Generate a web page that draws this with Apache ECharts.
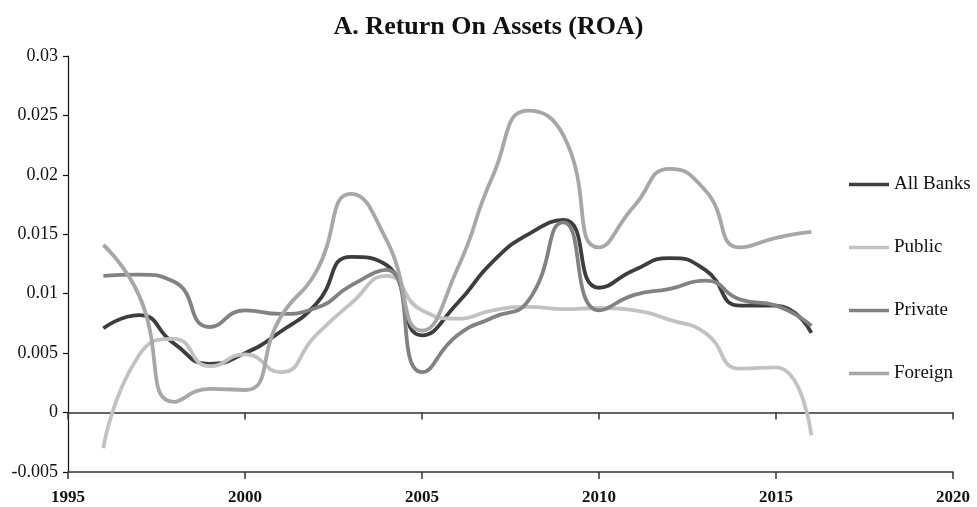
<!DOCTYPE html>
<html>
<head>
<meta charset="utf-8">
<script src="https://cdn.jsdelivr.net/npm/echarts@6/dist/echarts.min.js"></script>
<style>
html,body{margin:0;padding:0;background:#fff;}
#chart{width:977px;height:507px;}
</style>
</head>
<body>
<div id="chart"></div>
<script>
var years = [1996,1997,1998,1999,2000,2001,2002,2003,2004,2005,2006,2007,2008,2009,2010,2011,2012,2013,2014,2015,2016];
var allBanks = [0.0071,0.0082,0.0058,0.0041,0.0050,0.0068,0.0091,0.0131,0.0124,0.0065,0.0092,0.0127,0.0150,0.0162,0.0105,0.0120,0.0130,0.0120,0.0090,0.0090,0.0067];
var publicBanks = [-0.0030,0.0048,0.0062,0.0039,0.0049,0.0034,0.0065,0.0092,0.0115,0.0086,0.0079,0.0086,0.0089,0.0087,0.0088,0.0086,0.0078,0.0067,0.0037,0.0038,-0.0019];
var privateBanks = [0.0115,0.0116,0.0110,0.0072,0.0086,0.0083,0.0088,0.0107,0.0120,0.0034,0.0065,0.0080,0.0094,0.0160,0.0086,0.0099,0.0104,0.0111,0.0095,0.0090,0.0073];
var foreignBanks = [0.0141,0.0099,0.0009,0.0020,0.0019,0.0080,0.0118,0.0184,0.0145,0.0069,0.0121,0.0199,0.0254,0.0233,0.0139,0.0174,0.0205,0.0187,0.0139,0.0147,0.0152];
var seriesNames = ['All Banks','Public','Private','Foreign'];
var seriesColors = ['#3d3d3d','#c2c2c2','#828282','#a7a7a7'];
var titleText = 'A. Return On Assets (ROA)';

function pairs(vals){ return years.map(function(y,i){ return [y, vals[i]]; }); }
var allData = [allBanks, publicBanks, privateBanks, foreignBanks];

var FONT = '"Liberation Serif", "Times New Roman", serif';
var chart = echarts.init(document.getElementById('chart'));
chart.setOption({
  animation: false,
  backgroundColor: '#ffffff',
  title: {
    text: titleText, left: 'center', top: 9,
    textStyle: { fontFamily: FONT, fontSize: 26, fontWeight: 'bold', color: '#111' }
  },
  legend: {
    orient: 'vertical', left: 844, top: 170,
    icon: 'rect', itemWidth: 40, itemHeight: 3.5, itemGap: 44,
    data: seriesNames,
    textStyle: { fontFamily: FONT, fontSize: 19, color: '#111' }
  },
  grid: { left: 68, right: 24, top: 56, bottom: 35 },
  xAxis: [{
    type: 'value', position: 'bottom', min: 1995, max: 2020, interval: 5,
    axisLine: { onZero: false, lineStyle: { color: '#333', width: 1.5 } },
    axisTick: { show: true, length: 7, lineStyle: { color: '#333', width: 1.5 } },
    axisLabel: { margin: 17, fontFamily: FONT, fontSize: 17, fontWeight: 'bold', color: '#111',
      formatter: function(v){ return String(Math.round(v)); } },
    splitLine: { show: false }
  }, {
    type: 'value', position: 'top', min: 1995, max: 2020, interval: 5,
    axisLine: { onZero: true, lineStyle: { color: '#333', width: 1.5 } },
    axisTick: { show: true, inside: true, length: 7, lineStyle: { color: '#333', width: 1.5 } },
    axisLabel: { show: false },
    splitLine: { show: false }
  }],
  yAxis: {
    type: 'value', min: -0.005, max: 0.03, interval: 0.005,
    axisLine: { show: true, lineStyle: { color: '#111', width: 1.2 } },
    axisTick: { show: true, length: 5, lineStyle: { color: '#111', width: 1.2 } },
    axisLabel: {
      margin: 10, fontFamily: FONT, fontSize: 18, color: '#111',
      formatter: function(v){ return String(parseFloat(v.toFixed(3))); }
    },
    splitLine: { show: false }
  },
  series: seriesNames.map(function(n, i){
    return {
      name: n, type: 'line', xAxisIndex: 0, data: pairs(allData[i]),
      smooth: 0.55, showSymbol: false, symbol: 'none',
      itemStyle: { color: seriesColors[i] },
      lineStyle: { color: seriesColors[i], width: 3.8 }
    };
  })
});
</script>
</body>
</html>
